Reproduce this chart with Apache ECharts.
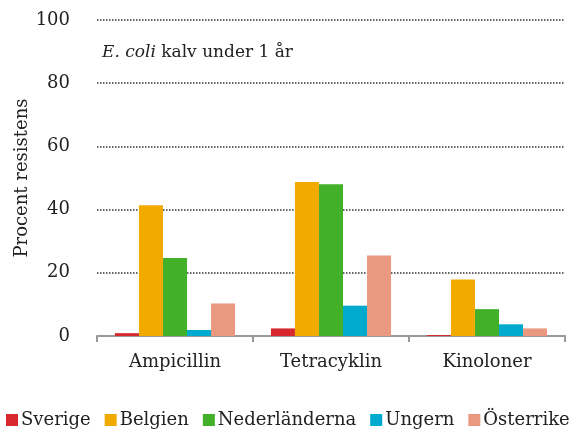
<!DOCTYPE html>
<html><head><meta charset="utf-8">
<script src="https://cdn.jsdelivr.net/npm/echarts@6/dist/echarts.min.js"></script>
<style>html,body{margin:0;padding:0;background:#fff}#c{width:574px;height:432px}</style>
</head><body><div id="c"></div>
<script>
var categories = ['Ampicillin', 'Tetracyklin', 'Kinoloner'];
var seriesNames = ['Sverige', 'Belgien', 'Nederländerna', 'Ungern', 'Österrike'];
var sverige = [0.9, 2.4, 0.3];
var belgien = [41.4, 48.7, 17.9];
var nederlanderna = [24.7, 48.0, 8.5];
var ungern = [1.9, 9.6, 3.7];
var osterrike = [10.3, 25.5, 2.4];
var colors = ['#D7282F', '#F2A900', '#43B02A', '#00A9CE', '#EA9880'];
var values = [sverige, belgien, nederlanderna, ungern, osterrike];
var font = 'DejaVu Serif';
var chart = echarts.init(document.getElementById('c'));
chart.setOption({
  animation: false,
  textStyle: {fontFamily: font},
  title: {
    text: '{i|E. coli} kalv under 1 år',
    left: 97, top: 39,
    textStyle: {fontFamily: font, fontSize: 17, fontWeight: 'normal', color: '#222',
      rich: {i: {fontFamily: font, fontStyle: 'italic', fontSize: 17, color: '#222'}}}
  },
  legend: {
    bottom: 3, left: 6, padding: 0,
    itemWidth: 12, itemHeight: 12, itemGap: 14,
    icon: 'rect',
    textStyle: {fontFamily: font, fontSize: 18, color: '#222', padding: [0, 0, 0, -2]},
    data: seriesNames
  },
  grid: {left: 97, right: 9, top: 20, bottom: 96},
  xAxis: {
    type: 'category', data: categories,
    axisLine: {lineStyle: {color: '#999', width: 2}},
    axisTick: {show: true, length: 6, lineStyle: {color: '#999', width: 2}},
    axisLabel: {fontFamily: font, fontSize: 18, color: '#222', margin: 17}
  },
  yAxis: {
    type: 'value', min: 0, max: 100, interval: 20,
    name: 'Procent resistens', nameLocation: 'middle', nameGap: 66, nameMoveOverlap: false,
    nameTextStyle: {fontFamily: font, fontSize: 18, color: '#222'},
    axisLine: {show: false}, axisTick: {show: false},
    axisLabel: {fontFamily: font, fontSize: 18, color: '#222', margin: 27},
    splitLine: {lineStyle: {type: [1.5, 1.5], color: '#333', width: 1.5}}
  },
  series: seriesNames.map(function (n, i) {
    return {name: n, type: 'bar', data: values[i], barGap: '0%', barCategoryGap: '23%',
      itemStyle: {color: colors[i]}};
  })
});
</script></body></html>
